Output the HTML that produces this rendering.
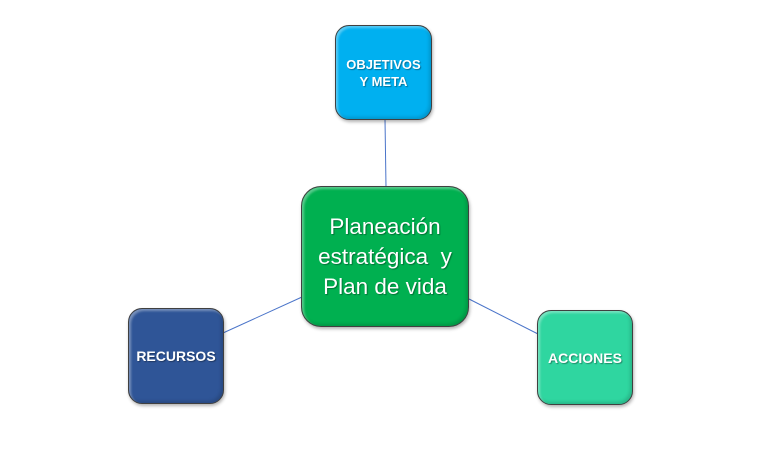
<!DOCTYPE html>
<html><head><meta charset="utf-8"><style>
body{margin:0;width:768px;height:470px;background:#fff;position:relative;overflow:hidden;font-family:"Liberation Sans",sans-serif}
.b{position:absolute;box-sizing:border-box;border:1.5px solid #404040;border-radius:14px;color:#fff;display:flex;align-items:center;justify-content:center;text-align:center;font-weight:bold;box-shadow:inset 2px 2px 2px rgba(255,255,255,.35),inset -2px -2px 3px rgba(0,0,0,.15),1px 2px 3px rgba(0,0,0,.3);text-shadow:1px 1px 1px rgba(0,0,0,.35)}
svg{position:absolute;left:0;top:0}
</style></head><body>
<svg width="768" height="470"><g stroke="#4a74c9" stroke-width="1">
<line x1="385" y1="119" x2="386" y2="187"/>
<line x1="223" y1="333" x2="302" y2="297"/>
<line x1="469" y1="299" x2="538" y2="334"/>
</g></svg>
<div class="b" style="left:335px;top:25px;width:97px;height:95px;background:#00b0f0;font-size:13px;line-height:17px">OBJETIVOS<br>Y META</div>
<div class="b" style="left:301px;top:186px;width:168px;height:141px;background:#00b050;font-weight:normal;font-size:22.5px;line-height:30px;border-radius:20px">Planeación<br>estratégica&nbsp; y<br>Plan de vida</div>
<div class="b" style="left:128px;top:308px;width:96px;height:96px;background:#2f5597;font-size:14px">RECURSOS</div>
<div class="b" style="left:537px;top:310px;width:96px;height:95px;background:#2fd6a0;font-size:14px">ACCIONES</div>
</body></html>
